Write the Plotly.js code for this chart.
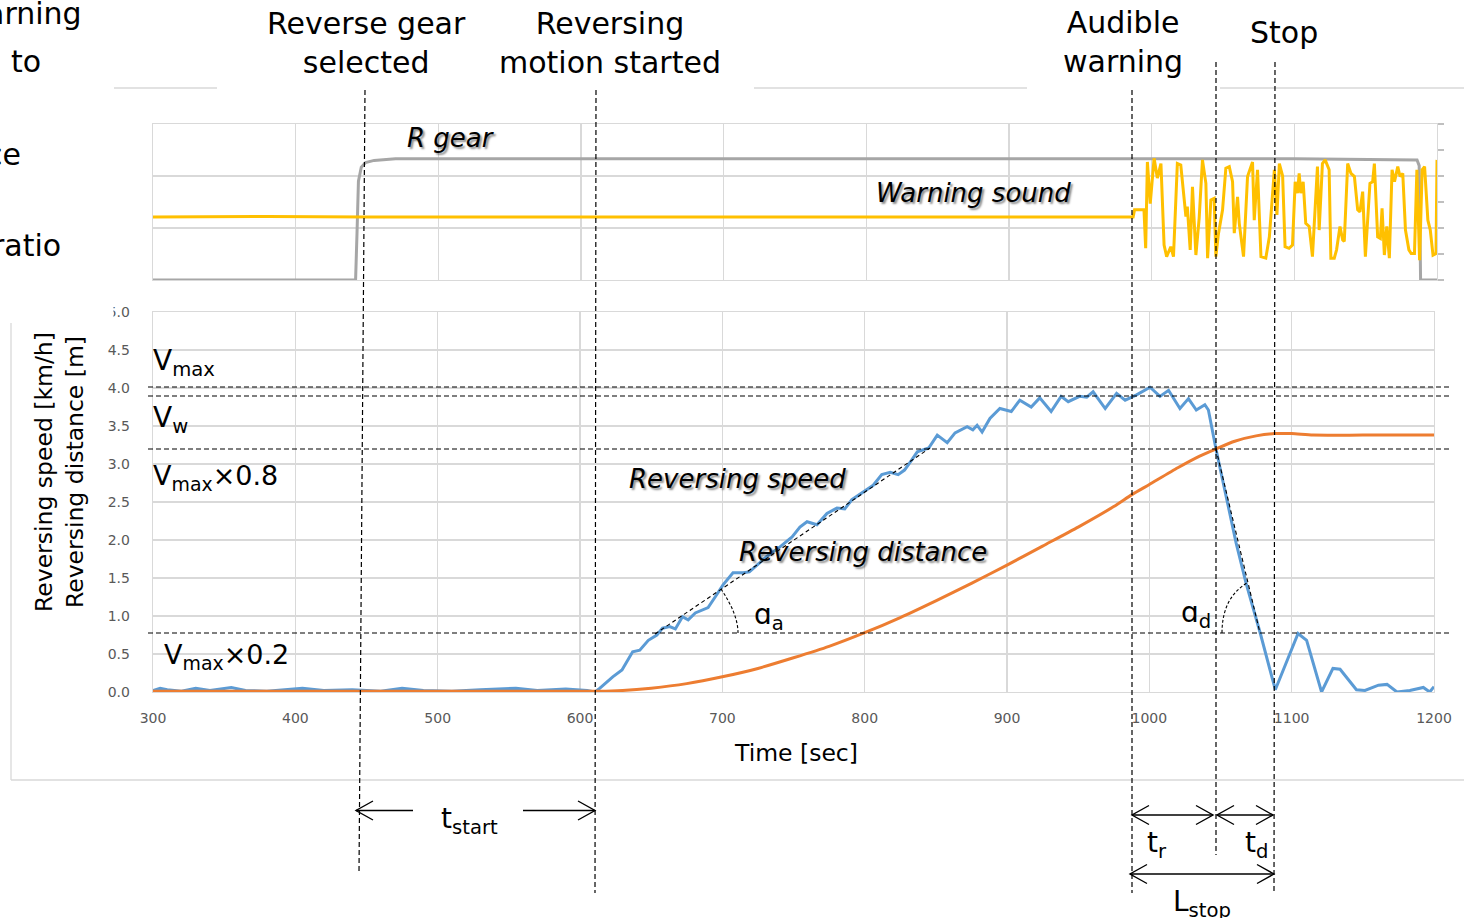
<!DOCTYPE html>
<html>
<head>
<meta charset="utf-8">
<script src="https://cdn.plot.ly/plotly-3.0.1.min.js"></script>
<style>html,body{margin:0;padding:0;background:#fff;}#chart{width:1464px;height:918px;}</style>
</head>
<body>
<div id="chart"></div>
<script>
// ---------------- DATA ----------------
// Upper panel: R gear signal (time [sec], level)
const rGearT = [300, 442, 443, 444, 446, 449, 455, 470, 600, 800, 1000, 1100, 1186, 1187.5, 1188.5, 1200];
const rGearV = [0, 0, 0.9, 1.9, 2.17, 2.26, 2.3, 2.33, 2.33, 2.33, 2.33, 2.33, 2.31, 2.2, 0, 0];

// Upper panel: warning sound signal
const warnT = [300,380,450,550,650,750,850,950,987,988,994.6,995.8,997,999,1001.7,1004,1006.5,1008.7,1010.5,1013.4,1015.3,1018,1020.4,1024,1025,1027,1028.6,1031,1033.3,1035.6,1038,1039.2,1041.5,1043.8,1045,1046.7,1049.7,1052,1054.4,1056.7,1057.9,1060.2,1061.4,1064.4,1067.2,1070.7,1071.9,1074.2,1076.6,1080,1082.5,1086,1087.8,1089.5,1091.8,1093.5,1096.3,1098.7,1100.6,1102.2,1103.4,1104.5,1106.2,1108,1110.4,1112.7,1113.9,1116.2,1117.4,1119.7,1121.6,1124.4,1125.6,1128,1129.6,1132,1133.9,1135,1137.4,1139.7,1142.1,1144.4,1146,1147.9,1149.8,1151.4,1153,1154.9,1156.1,1158.4,1160.3,1161.5,1163.1,1164.8,1166.6,1168.5,1170.2,1172.5,1174.1,1176,1177.9,1180.3,1181.9,1184.2,1185.9,1187.8,1189.6,1191.3,1193.6,1195.3,1197.2,1199.3,1200];
const warnV = [1.21,1.22,1.21,1.21,1.22,1.21,1.21,1.22,1.21,1.35,1.35,0.61,2.27,1.47,2.34,1.96,2.24,0.67,0.45,0.64,0.45,2.24,2.21,1.22,1.41,0.58,1.79,0.48,1.19,2.31,1.86,0.42,1.54,1.57,0.45,0.87,1.35,2.15,2.18,1.89,0.9,1.6,1.09,0.45,1.99,2.27,1.15,2.12,0.45,0.42,0.83,2.12,1.25,2.24,2.0,0.64,0.61,0.67,1.89,1.67,2.05,1.67,1.89,1.09,1.03,0.45,1.09,2.18,0.96,2.24,2.31,2.12,0.42,0.42,0.58,1.03,0.77,0.74,2.24,2.05,1.99,1.35,1.31,1.7,0.45,1.15,1.86,1.89,2.24,0.83,0.8,1.38,0.48,1.03,0.42,2.12,1.89,2.18,1.99,2.05,0.96,0.58,0.51,0.51,2.12,0.38,2.12,2.18,1.15,0.96,0.48,0.51,2.31];

// Lower panel: reversing speed [km/h]
const speedT = [300,305,310,320,330,340,355,365,380,405,420,440,460,475,490,510,530,555,570,590,605,610.5,614,619,623,629.5,633.5,637,642,648,654,658,663,667,672,676,681,690,696,700.5,707.5,714.5,719,726.5,731,740.5,749,754.5,759.5,766.5,773.5,780.5,786,791,799,806,812,818,823.5,828,833,837,845,851,858,863.5,872,876,879,882.5,888,895,903,909,917,923,931,938,943,951,956,960.5,969,977,983,991,1000.5,1007.5,1013.5,1021.5,1027.5,1033,1039,1041.5,1047,1056.5,1061,1068,1078,1088.5,1097.5,1104.5,1110.5,1121,1129,1134,1145.5,1151.5,1161,1167,1174,1183,1192.5,1197,1200];
const speedV = [0.02,0.05,0.03,0.01,0.05,0.02,0.06,0.02,0.01,0.05,0.02,0.03,0.01,0.05,0.02,0.01,0.03,0.05,0.02,0.04,0.02,0.0,0.05,0.13,0.2,0.29,0.42,0.53,0.55,0.68,0.75,0.84,0.86,0.83,0.99,0.95,1.04,1.11,1.28,1.41,1.57,1.57,1.58,1.7,1.78,1.91,2.04,2.17,2.24,2.2,2.35,2.42,2.41,2.53,2.63,2.72,2.86,2.89,2.86,2.92,3.05,3.16,3.21,3.38,3.28,3.41,3.49,3.45,3.51,3.42,3.6,3.73,3.69,3.84,3.75,3.87,3.69,3.89,3.82,3.89,3.88,3.95,3.73,3.93,3.84,3.91,4.01,3.89,3.97,3.73,3.86,3.71,3.78,3.71,3.18,2.35,1.96,1.43,0.77,0.03,0.46,0.77,0.68,0.0,0.31,0.3,0.03,0.02,0.09,0.1,0.0,0.02,0.06,0.0,0.07];

// Lower panel: reversing distance [m]
const distT = [300,613,630,650,675,700,725,750,775,800,825,850,875,900,925,950,975,988,1000,1020,1035,1047,1060,1075,1088,1100,1115,1150,1200];
const distV = [0.01,0.01,0.02,0.05,0.11,0.2,0.31,0.45,0.6,0.78,0.98,1.2,1.43,1.67,1.92,2.17,2.44,2.6,2.73,2.95,3.1,3.2,3.3,3.37,3.4,3.4,3.38,3.38,3.38];

// Tick settings / labels
const xTicks = [300,400,500,600,700,800,900,1000,1100,1200];
const yTicks = [0,0.5,1,1.5,2,2.5,3,3.5,4,4.5,5];

// ---------------- LAYOUT HELPERS ----------------
const W = 1464, H = 918;
const px = x => x / W;
const py = y => 1 - y / H;
const P = (x, y) => px(x).toFixed(5) + ',' + py(y).toFixed(5);

const shapes = [];
function seg(x0, y0, x1, y1, color, width, dash, layer) {
  shapes.push({type:'line', xref:'paper', yref:'paper', x0:px(x0), y0:py(y0), x1:px(x1), y1:py(y1),
    line:{color:color, width:width, dash:dash || 'solid'}, layer: layer || 'above'});
}
function path(d, color, width, dash) {
  shapes.push({type:'path', xref:'paper', yref:'paper', path:d, line:{color:color, width:width, dash:dash||'solid'}, layer:'above'});
}
const DASH = '5px,3px';
const BLK = '#000';
const BORDER = '#d9d9d9';

// outer chart-area border fragments
seg(114, 88, 217, 88, BORDER, 1.3, 'solid', 'below');
seg(754, 88, 1027, 88, BORDER, 1.3, 'solid', 'below');
seg(1220, 88, 1464, 88, BORDER, 1.3, 'solid', 'below');
seg(11, 323, 11, 780, BORDER, 1.3, 'solid', 'below');
seg(11, 780, 1464, 780, BORDER, 1.3, 'solid', 'below');

// vertical event lines
seg(365, 90, 359, 873, BLK, 1.2, DASH);
seg(596, 90, 595, 893, BLK, 1.2, DASH);
seg(1132, 90, 1132, 893, BLK, 1.2, DASH);
seg(1216, 62, 1216, 855, BLK, 1.2, DASH);
seg(1275, 62, 1274, 893, BLK, 1.2, DASH);

// horizontal reference lines
seg(148, 387, 1452, 387, BLK, 1.2, DASH);
seg(148, 396, 1452, 396, BLK, 1.2, DASH);
seg(148, 449, 1452, 449, BLK, 1.2, DASH);
seg(148, 633, 1452, 633, BLK, 1.2, DASH);

// slope lines
seg(655, 634, 930, 448, BLK, 1.1, '4px,3px');
seg(1216, 449, 1260, 633, BLK, 1.1, '4px,3px');

// angle arcs
path('M' + P(738, 633) + ' Q' + P(738, 614) + ' ' + P(721, 589), BLK, 1.1, '3px,2px');
path('M' + P(1222, 633) + ' Q' + P(1222, 598) + ' ' + P(1247, 583), BLK, 1.1, '3px,2px');

// arrows
function head(tx, ty, dir) { // dir: -1 pointing left, +1 pointing right
  const bx = tx - dir * 17;
  path('M' + P(bx, ty - 9.5) + ' L' + P(tx, ty) + ' L' + P(bx, ty + 9.5), BLK, 1.4);
}
seg(356, 810.5, 413, 810.5, BLK, 1.4); head(356, 810.5, -1);
seg(523, 810.5, 595, 810.5, BLK, 1.4); head(595, 810.5, 1);
seg(1132, 815, 1213, 815, BLK, 1.4); head(1132, 815, -1); head(1213, 815, 1);
seg(1217, 815, 1273, 815, BLK, 1.4); head(1217, 815, -1); head(1273, 815, 1);
seg(1130, 874, 1274, 874, BLK, 1.4); head(1130, 874, -1); head(1274, 874, 1);

// mask clipping the "5" of the top tick label
shapes.push({type:'rect', xref:'paper', yref:'paper', x0:px(90), x1:px(113.5), y0:py(324), y1:py(298),
  fillcolor:'#fff', line:{width:0}, layer:'above'});

// ---------------- ANNOTATIONS ----------------
const annotations = [];
function ann(text, x, y, xa, size, extra) {
  const a = {text:text, xref:'paper', yref:'paper', x:px(x), y:py(y), xanchor:xa, yanchor:'middle',
    showarrow:false, font:{family:'DejaVu Sans', size:size, color:'#000'}, align: xa === 'right' ? 'right' : (xa === 'left' ? 'left' : 'center'), borderpad:0};
  if (extra) Object.assign(a.font, extra);
  annotations.push(a);
  return a;
}
// header labels
ann('Reverse gear<br>selected', 366, 43, 'center', 30);
ann('Reversing<br>motion started', 610, 43, 'center', 30);
ann('Audible<br>warning', 1123, 42, 'center', 30);
ann('Stop', 1284, 33, 'center', 30);
// cropped left labels
ann('arning', 83, 14, 'right', 30);
ann('to', 42, 61, 'right', 30);
ann('ce', 22, 154, 'right', 30);
ann('ratio', 62, 246, 'right', 30);

// series labels (italic with shadow)
const ital = {style:'italic', shadow:'2px 2px 2px rgba(0,0,0,0.45)'};
ann('R gear', 451, 138, 'center', 26, ital);
ann('Warning sound', 973, 193, 'center', 26, ital);
ann('Reversing speed', 738, 479, 'center', 26, ital);
ann('Reversing distance', 863, 552, 'center', 26, ital);

// reference level labels
ann('V<sub>max</sub>', 152, 363, 'left', 28);
ann('V<sub>w</sub>', 152, 419, 'left', 28);
ann('V<sub>max</sub>×0.8', 152, 477, 'left', 27);
ann('V<sub>max</sub>×0.2', 163, 656, 'left', 27);

// angle labels
ann('ɑ<sub>a</sub>', 753, 616, 'left', 28);
ann('ɑ<sub>d</sub>', 1180, 614, 'left', 28);

// time interval labels
ann('t<sub>start</sub>', 440, 820, 'left', 28);
ann('t<sub>r</sub>', 1146, 844, 'left', 28);
ann('t<sub>d</sub>', 1244, 844, 'left', 28);
ann('L<sub>stop</sub>', 1172, 903, 'left', 28);

// axis titles
ann('Time [sec]', 796, 753, 'center', 23.5);
const yt = ann('Reversing speed [km/h]<br>Reversing distance [m]', 59, 472, 'center', 23.5);
yt.textangle = -90;

// ---------------- TRACES ----------------
const traces = [
  {x:rGearT, y:rGearV, xaxis:'x2', yaxis:'y2', mode:'lines', line:{color:'#a6a6a6', width:3}, hoverinfo:'skip'},
  {x:warnT, y:warnV, xaxis:'x2', yaxis:'y2', mode:'lines', line:{color:'#ffc000', width:3}, hoverinfo:'skip'},
  {x:[], y:[], xaxis:'x2', yaxis:'y3', mode:'lines', hoverinfo:'skip'},
  {x:speedT, y:speedV, xaxis:'x', yaxis:'y', mode:'lines', line:{color:'#5b9bd5', width:3}, hoverinfo:'skip'},
  {x:distT, y:distV, xaxis:'x', yaxis:'y', mode:'lines', line:{color:'#ed7d31', width:3, shape:'spline', smoothing:0.6}, hoverinfo:'skip'}
];

const gridAx = {showgrid:true, gridcolor:BORDER, gridwidth:1.3, showline:true, linecolor:BORDER, linewidth:1.3,
  mirror:true, zeroline:false, ticks:'', fixedrange:true};

const layout = {
  width:W, height:H, margin:{l:0, r:0, t:0, b:0}, paper_bgcolor:'#fff', plot_bgcolor:'#fff',
  showlegend:false, font:{family:'DejaVu Sans', color:'#000'},
  xaxis: Object.assign({}, gridAx, {domain:[px(153), px(1434)], range:[300,1200], tickvals:xTicks,
    ticktext:xTicks.map(String), anchor:'y', tickfont:{size:14, color:'#595959'}, ticklabelstandoff:13}),
  yaxis: Object.assign({}, gridAx, {domain:[py(692), py(312)], range:[0,5], tickvals:yTicks,
    ticktext:yTicks.map(v => v.toFixed(1)), anchor:'x', tickfont:{size:14, color:'#595959'}, ticklabelstandoff:19}),
  xaxis2: Object.assign({}, gridAx, {domain:[px(153), px(1437)], range:[300,1200], dtick:100, tick0:300,
    anchor:'y2', showticklabels:false}),
  yaxis2: Object.assign({}, gridAx, {domain:[py(280), py(124)], range:[0,3], dtick:1, anchor:'x2', showticklabels:false}),
  yaxis3: {overlaying:'y2', side:'right', anchor:'x2', range:[0,3], dtick:0.5, ticks:'outside', ticklen:6,
    tickcolor:'#bfbfbf', tickwidth:1.3, showgrid:false, showticklabels:false, zeroline:false, showline:false, fixedrange:true},
  shapes: shapes,
  annotations: annotations
};

Plotly.newPlot('chart', traces, layout, {displayModeBar:false, staticPlot:true});
</script>
</body>
</html>
